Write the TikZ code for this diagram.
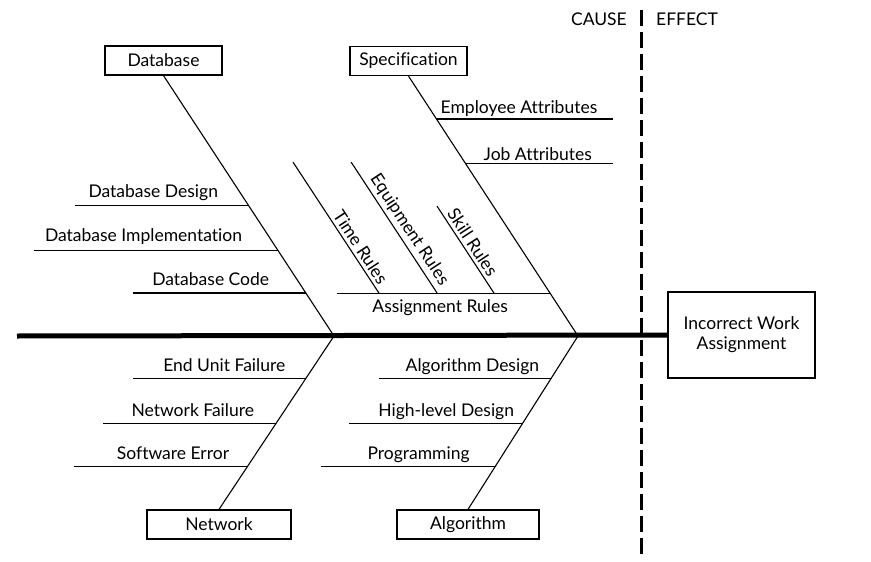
\documentclass[tikz,border=0pt]{standalone}
\usepackage{fontspec}
\setmainfont[Ligatures={NoCommon}]{Lato}
\usetikzlibrary{calc}

\begin{document}
\begin{tikzpicture}[
        x=1pt, y=-1pt,
        font=\fontsize{17.5}{20}\selectfont,
        cat/.style={draw, line width=1.2pt, minimum height=29pt, inner sep=0pt},
        effectbox/.style={draw, line width=1.2pt, minimum width=147pt, minimum height=86pt, align=center},
        bone/.style={line width=1.1pt},
        spine/.style={line width=5pt},
        divider/.style={line width=3pt, dash pattern=on 16pt off 6pt},
        lbl/.style={anchor=base, yshift=7.5pt, inner sep=0pt},
        rulelbl/.style={sloped, above, inner sep=3pt}
    ]
        \useasboundingbox (0,0) rectangle (871,562);

        % Category boxes and the effect
        \node[cat, minimum width=117pt] (db) at (163.5,60.5) {Database};
        \node[cat, minimum width=117pt] (spec) at (408.5,61) {Specification};
        \node[cat, minimum width=144pt] (net) at (219,524.5) {Network};
        \node[cat, minimum width=142pt] (alg) at (468,524.5) {Algorithm};
        \node[effectbox] (eff) at (741.5,335) {Incorrect Work\\Assignment};

        % Spine
        \coordinate (tail) at (17,336);
        \coordinate (jdb) at (334,336);
        \coordinate (jsp) at (578,336);
        \draw[spine] (tail) -- (eff.west);

        % Cause / effect divider
        \coordinate (divtop) at (641,10);
        \coordinate (divbot) at (641,555);
        \draw[divider] (divtop) -- (divbot);
        \node[anchor=base east, inner sep=0pt] (cause) at (627,25) {CAUSE};
        \node[anchor=base west, inner sep=0pt] (effect) at (656,25) {EFFECT};

        % Database bone
        \draw[bone] (db.south) -- (jdb) coordinate[pos=0.498] (db1) coordinate[pos=0.670] (db2) coordinate[pos=0.835] (db3);
        \draw[bone] (db1) -- ++(-173,0) node[lbl, pos=0.55] {Database Design};
        \draw[bone] (db2) -- ++(-244,0) node[lbl, pos=0.55, yshift=1pt] {Database Implementation};
        \draw[bone] (db3) -- ++(-173,0) node[lbl, pos=0.55] {Database Code};

        % Specification bone
        \draw[bone] (spec.south) -- (jsp) coordinate[pos=0.165] (sp1) coordinate[pos=0.338] (sp2) coordinate[pos=0.835] (sp3);
        \draw[bone] (sp1) -- ++(177,0) node[lbl, pos=0.466, yshift=-2pt] {Employee Attributes};
        \draw[bone] (sp2) -- ++(147,0) node[lbl, pos=0.49, yshift=-4pt] {Job Attributes};
        \draw[bone] (sp3) -- ++(-213,0) node[lbl, pos=0.516, yshift=-26.5pt] {Assignment Rules}
            coordinate[pos=0.263] (ar1) coordinate[pos=0.53] (ar2) coordinate[pos=0.803] (ar3);
        \draw[bone] (ar3) -- ++(-86,-131) node[rulelbl, pos=0.31] {Time Rules};
        \draw[bone] (ar2) -- ++(-86,-131) node[rulelbl, pos=0.435] {Equipment Rules};
        \draw[bone] (ar1) -- ++(-57,-87) node[rulelbl, pos=0.52] {Skill Rules};

        % Network bone
        \draw[bone] (net.north) -- (jdb) coordinate[pos=0.247] (nw3) coordinate[pos=0.494] (nw2) coordinate[pos=0.753] (nw1);
        \draw[bone] (nw1) -- ++(-173,0) node[lbl, pos=0.47] {End Unit Failure};
        \draw[bone] (nw2) -- ++(-173,0) node[lbl, pos=0.48] {Network Failure};
        \draw[bone] (nw3) -- ++(-173,0) node[lbl, pos=0.43] {Software Error};

        % Algorithm bone
        \draw[bone] (alg.north) -- (jsp) coordinate[pos=0.247] (al3) coordinate[pos=0.494] (al2) coordinate[pos=0.753] (al1);
        \draw[bone] (al1) -- ++(-172,0) node[lbl, pos=0.456] {Algorithm Design};
        \draw[bone] (al2) -- ++(-173,0) node[lbl, pos=0.44] {High-level Design};
        \draw[bone] (al3) -- ++(-174,0) node[lbl, pos=0.44] {Programming};

    \end{tikzpicture}
\end{document}
